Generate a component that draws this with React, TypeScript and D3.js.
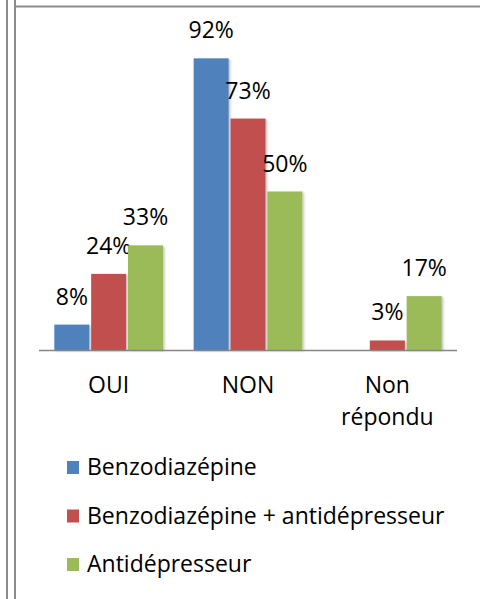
import React, { useEffect, useRef } from 'react';
import * as d3 from 'd3';

const categories = [['OUI'], ['NON'], ['Non', 'répondu']];
const seriesNames = ['Benzodiazépine', 'Benzodiazépine + antidépresseur', 'Antidépresseur'];
const seriesColors = ['#4F81BD', '#C0504D', '#9BBB59'];
const benzo = [8, 92, 0];
const benzoAnti = [24, 73, 3];
const anti = [33, 50, 17];

const width = 480;
const height = 599;

const App = () => {
  const svgRef = useRef<SVGSVGElement>(null);

  useEffect(() => {
    const svg = d3.select(svgRef.current);
    svg.selectAll('*').remove();
    const font = "'Open Sans', sans-serif";
    const series = [benzo, benzoAnti, anti];
    const keys = categories.map(c => c.join(' '));

    // frame lines
    svg.append('line').attr('x1', 7).attr('x2', 7).attr('y1', 0).attr('y2', height)
      .attr('stroke', '#8c8c8c').attr('stroke-width', 2);
    svg.append('line').attr('x1', 15).attr('x2', 15).attr('y1', 0).attr('y2', height)
      .attr('stroke', '#8c8c8c').attr('stroke-width', 2);
    svg.append('line').attr('x1', 14).attr('x2', width).attr('y1', 6.5).attr('y2', 6.5)
      .attr('stroke', '#8c8c8c').attr('stroke-width', 2);

    const defs = svg.append('defs');
    const filter = defs.append('filter').attr('id', 'shadow')
      .attr('x', '-20%').attr('y', '-20%').attr('width', '140%').attr('height', '140%');
    filter.append('feDropShadow').attr('dx', 1.5).attr('dy', 1).attr('stdDeviation', 1)
      .attr('flood-color', '#000').attr('flood-opacity', 0.25);

    const x = d3.scaleBand().domain(keys).range([39, 457]).paddingInner(0.22).paddingOuter(0.11);
    const xs = d3.scaleBand().domain(seriesNames).range([0, x.bandwidth()]).paddingInner(0.05);
    const y = d3.scaleLinear().domain([0, 100]).range([350, 33]);

    const groups = svg.append('g').selectAll('g').data(keys).enter().append('g')
      .attr('transform', d => `translate(${x(d)},0)`);

    groups.each(function (k, ci) {
      const g = d3.select(this);
      seriesNames.forEach((s, si) => {
        const v = series[si][ci];
        if (v <= 0) return;
        g.append('rect')
          .attr('x', xs(s)!)
          .attr('y', y(v))
          .attr('width', xs.bandwidth())
          .attr('height', y(0) - y(v))
          .attr('fill', seriesColors[si])
          .attr('filter', 'url(#shadow)');
        g.append('text')
          .attr('x', xs(s)! + xs.bandwidth() / 2)
          .attr('y', y(v) - 20)
          .attr('text-anchor', 'middle')
          .style('font-family', font)
          .style('font-size', '23px')
          .style('fill', '#000')
          .text(`${v}%`);
      });
    });

    // axis line
    svg.append('line').attr('x1', 39).attr('x2', 457).attr('y1', y(0) + 0.5).attr('y2', y(0) + 0.5)
      .attr('stroke', '#868686').attr('stroke-width', 1.5);

    // category labels
    categories.forEach((lines, ci) => {
      const cx = x(keys[ci])! + x.bandwidth() / 2;
      const t = svg.append('text')
        .attr('text-anchor', 'middle')
        .style('font-family', font)
        .style('font-size', '23px')
        .style('fill', '#000');
      lines.forEach((l, li) => {
        t.append('tspan').attr('x', cx).attr('y', 393 + li * 32).text(l);
      });
    });

    // legend
    const legend = svg.append('g');
    seriesNames.forEach((s, si) => {
      const baseY = 475 + si * 48.5;
      legend.append('rect')
        .attr('x', 67).attr('y', baseY - 14).attr('width', 12).attr('height', 13)
        .attr('fill', seriesColors[si]);
      legend.append('text')
        .attr('x', 87).attr('y', baseY)
        .style('font-family', font)
        .style('font-size', '23px')
        .style('fill', '#000')
        .text(s);
    });
  }, []);

  return (
    <svg
      ref={svgRef}
      width={width}
      height={height}
      style={{ position: 'absolute', left: 0, top: 0, background: '#fff' }}
    />
  );
};

export default App;
